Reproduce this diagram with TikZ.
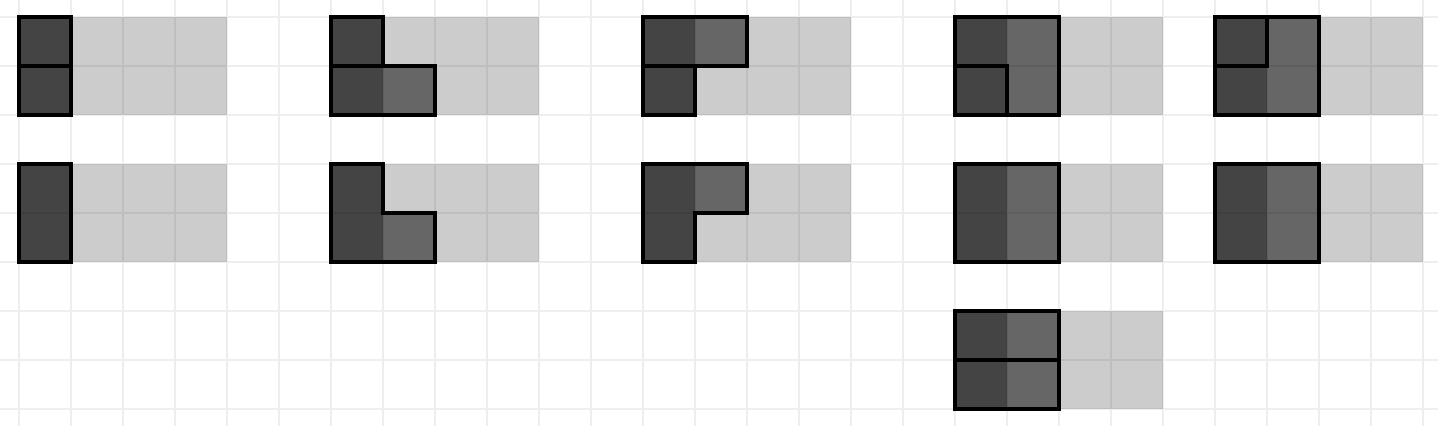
\documentclass[tikz,border=0pt]{standalone}
\usepackage{tikz}
\definecolor{gridgray}{RGB}{238,238,238}
\tikzset{
  gridline/.style={draw=gridgray, line width=1.5pt},
  shade/.style={fill=black, fill opacity=0.2},
  darkcell/.style={fill=black, fill opacity=0.667},
  midcell/.style={fill=black, fill opacity=0.5},
  piece/.style={draw=black, line width=3pt, line join=miter}
}
\begin{document}
\begin{tikzpicture}[x=0.75pt,y=0.75pt,yscale=-1,xscale=1]
\useasboundingbox (0,0) rectangle (1438,426);
\clip (0,0) rectangle (1438,426);
%Grid
\foreach \x in {19,71,...,1423} \draw [gridline] (\x,0) -- (\x,426);
\foreach \y in {17,66,...,409} \draw [gridline] (0,\y) -- (1438,\y);
%Shape: Rectangle [row 1]
\fill [shade] (19,17) rectangle (227,115);
\fill [shade] (331,17) rectangle (539,115);
\fill [shade] (643,17) rectangle (851,115);
\fill [shade] (955,17) rectangle (1163,115);
\fill [shade] (1215,17) rectangle (1423,115);
%Shape: Rectangle [row 2]
\fill [shade] (19,164) rectangle (227,262);
\fill [shade] (331,164) rectangle (539,262);
\fill [shade] (643,164) rectangle (851,262);
\fill [shade] (955,164) rectangle (1163,262);
\fill [shade] (1215,164) rectangle (1423,262);
%Shape: Rectangle [row 3]
\fill [shade] (955,311) rectangle (1163,409);
%Cells [row 1]
\fill [darkcell] (19,17) rectangle (71,115);
\fill [darkcell] (331,17) rectangle (383,115);
\fill [midcell] (383,66) rectangle (435,115);
\fill [darkcell] (643,17) rectangle (695,115);
\fill [midcell] (695,17) rectangle (747,66);
\fill [darkcell] (955,17) rectangle (1007,115);
\fill [midcell] (1007,17) rectangle (1059,115);
\fill [darkcell] (1215,17) rectangle (1267,115);
\fill [midcell] (1267,17) rectangle (1319,115);
%Cells [row 2]
\fill [darkcell] (19,164) rectangle (71,262);
\fill [darkcell] (331,164) rectangle (383,262);
\fill [midcell] (383,213) rectangle (435,262);
\fill [darkcell] (643,164) rectangle (695,262);
\fill [midcell] (695,164) rectangle (747,213);
\fill [darkcell] (955,164) rectangle (1007,262);
\fill [midcell] (1007,164) rectangle (1059,262);
\fill [darkcell] (1215,164) rectangle (1267,262);
\fill [midcell] (1267,164) rectangle (1319,262);
%Cells [row 3]
\fill [darkcell] (955,311) rectangle (1007,409);
\fill [midcell] (1007,311) rectangle (1059,409);
%Pieces [row 1]
\draw [piece] (19,17) rectangle (71,66);
\draw [piece] (19,66) rectangle (71,115);
\draw [piece] (331,17) rectangle (383,66);
\draw [piece] (331,66) rectangle (435,115);
\draw [piece] (643,17) rectangle (747,66);
\draw [piece] (643,66) rectangle (695,115);
\draw [piece] (955,17) -- (1059,17) -- (1059,115) -- (1007,115) -- (1007,66) -- (955,66) -- cycle;
\draw [piece] (955,66) rectangle (1007,115);
\draw [piece] (1215,17) rectangle (1267,66);
\draw [piece] (1267,17) -- (1319,17) -- (1319,115) -- (1215,115) -- (1215,66) -- (1267,66) -- cycle;
%Pieces [row 2]
\draw [piece] (19,164) rectangle (71,262);
\draw [piece] (331,164) -- (383,164) -- (383,213) -- (435,213) -- (435,262) -- (331,262) -- cycle;
\draw [piece] (643,164) -- (747,164) -- (747,213) -- (695,213) -- (695,262) -- (643,262) -- cycle;
\draw [piece] (955,164) rectangle (1059,262);
\draw [piece] (1215,164) rectangle (1319,262);
%Pieces [row 3]
\draw [piece] (955,311) rectangle (1059,360);
\draw [piece] (955,360) rectangle (1059,409);
\end{tikzpicture}
\end{document}
